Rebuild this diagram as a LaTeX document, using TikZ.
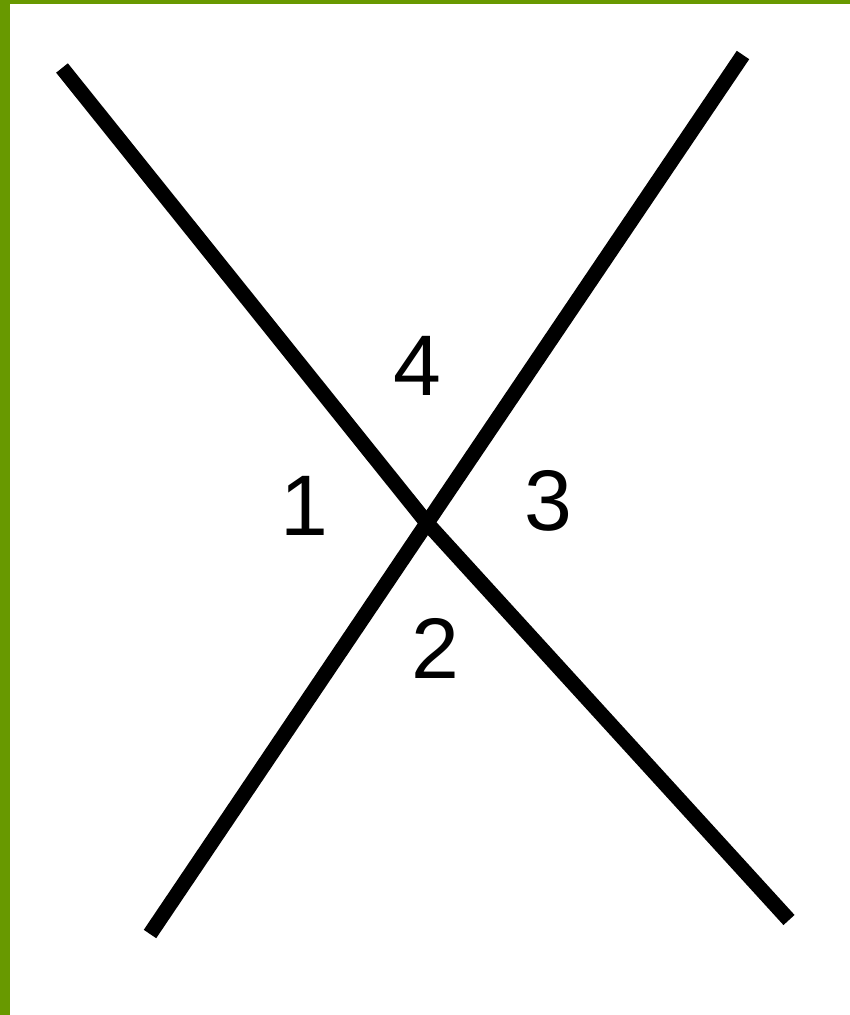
\documentclass[tikz,border=0pt]{standalone}
\usepackage{fontspec}
\setmainfont{Liberation Sans}
\definecolor{frame}{RGB}{104,153,0}
\begin{document}
\begin{tikzpicture}[x=1pt,y=-1pt,
  stroke/.style={line width=15pt, black, line cap=butt, line join=round},
  num/.style={inner sep=0pt, font=\fontsize{86}{86}\selectfont}]
\useasboundingbox (0,0) rectangle (850,1015);
\fill[white] (0,0) rectangle (850,1015);
\fill[frame] (0,0) rectangle (10,1015);
\fill[frame] (0,0) rectangle (850,4);
\coordinate (a) at (62,68);
\coordinate (x) at (427,523);
\coordinate (b) at (789,920);
\coordinate (c) at (743,55);
\coordinate (d) at (150,934);
\draw[stroke] (a) -- (x) -- (b);
\draw[stroke] (c) -- (x) -- (d);
\node[num] (n4) at (417,366) {4};
\node[num] (n1) at (304,506) {1};
\node[num] (n3) at (548,501) {3};
\node[num] (n2) at (435,648) {2};
\end{tikzpicture}
\end{document}
